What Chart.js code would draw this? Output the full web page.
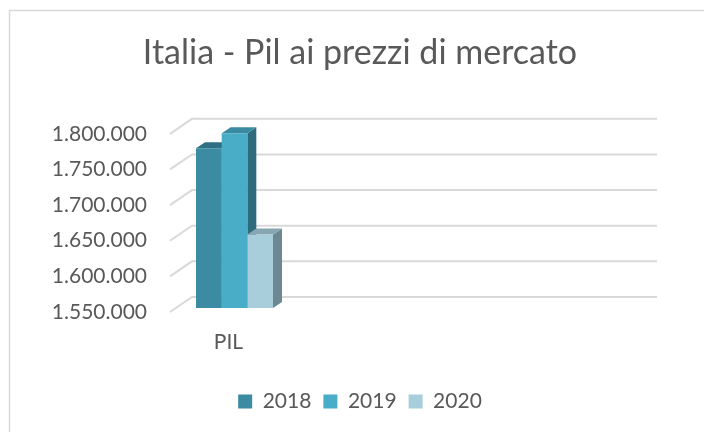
<!DOCTYPE html>
<html>
<head>
<meta charset="utf-8">
<script src="https://cdn.jsdelivr.net/npm/chart.js@4.4.0/dist/chart.umd.min.js"></script>
<style>
  html, body { margin: 0; padding: 0; background: #fff; }
  #contenitore { position: relative; width: 704px; height: 432px; }
</style>
</head>
<body>
<div id="contenitore"><canvas id="pilChart" width="704" height="432"></canvas></div>
<script>
// Dati (PIL a prezzi di mercato, milioni di euro)
const categorie = ['PIL'];
const anni = ['2018', '2019', '2020'];
const pil2018 = [1774000];
const pil2019 = [1795000];
const pil2020 = [1653000];
const asseMin = 1550000;
const asseMax = 1800000;
const passoAsse = 50000;

const COLORI_FRONTE = ['#3b8ba3', '#4aadc7', '#a8cedb'];
const COLORI_CIMA = ['#2f7084', '#3a8aa1', '#86a6b1'];
const COLORI_LATO = ['#2d6b7c', '#2e6c7d', '#6b8893'];
const GRIGIO_TESTO = '#595959';
const GRIGIO_GRIGLIA = '#d9d9d9';

// profondità della barra e del "pavimento" 3D, in pixel
const DX_BARRA = 9, DY_BARRA = 6;
const DX_FONDO = 16, DY_FONDO = 11;
const DX_FRONTE = -6, DY_FRONTE = 4;
const FINE_GRIGLIA = 657;

function formatoIt(v) {
    return String(v).replace(/\B(?=(\d{3})+(?!\d))/g, '.');
}

// Disegna la cornice, la griglia sulla parete di fondo e le facce laterali
// e superiori delle barre (la faccia frontale la disegna Chart.js).
const effetto3D = {
    id: 'effetto3D',
    beforeDraw(chart) {
        const ctx = chart.ctx;
        ctx.save();
        ctx.strokeStyle = GRIGIO_GRIGLIA;
        ctx.lineWidth = 1.5;
        ctx.beginPath();
        ctx.moveTo(9.5, chart.height);
        ctx.lineTo(9.5, 10.5);
        ctx.lineTo(chart.width, 10.5);
        ctx.stroke();
        ctx.restore();
    },
    beforeDatasetsDraw(chart) {
        const { ctx, chartArea } = chart;
        const y = chart.scales.y;
        ctx.save();
        ctx.strokeStyle = GRIGIO_GRIGLIA;
        ctx.lineWidth = 2;
        y.ticks.forEach(t => {
            const py = y.getPixelForValue(t.value);
            ctx.beginPath();
            ctx.moveTo(chartArea.left + DX_FRONTE, py + DY_FRONTE);
            ctx.lineTo(chartArea.left + DX_FONDO, py - DY_FONDO);
            ctx.lineTo(FINE_GRIGLIA, py - DY_FONDO);
            ctx.stroke();
        });
        chart.data.datasets.forEach((ds, i) => {
            chart.getDatasetMeta(i).data.forEach(barra => {
                const p = barra.getProps(['x', 'y', 'base', 'width'], true);
                const cima = p.y;
                const base = Math.min(p.base, chartArea.bottom);
                const sx = p.x - p.width / 2, dx = p.x + p.width / 2;
                ctx.fillStyle = COLORI_LATO[i];
                ctx.beginPath();
                ctx.moveTo(dx, cima);
                ctx.lineTo(dx + DX_BARRA, cima - DY_BARRA);
                ctx.lineTo(dx + DX_BARRA, base - DY_BARRA);
                ctx.lineTo(dx, base);
                ctx.closePath();
                ctx.fill();
                ctx.fillStyle = COLORI_CIMA[i];
                ctx.beginPath();
                ctx.moveTo(sx, cima);
                ctx.lineTo(sx + DX_BARRA, cima - DY_BARRA);
                ctx.lineTo(dx + DX_BARRA, cima - DY_BARRA);
                ctx.lineTo(dx, cima);
                ctx.closePath();
                ctx.fill();
            });
        });
        ctx.restore();
    }
};

Chart.defaults.font.family = 'Lato, "Noto Sans", sans-serif';
Chart.defaults.color = GRIGIO_TESTO;

const serie = [pil2018, pil2019, pil2020];

new Chart(document.getElementById('pilChart').getContext('2d'), {
    type: 'bar',
    data: {
        labels: categorie,
        datasets: anni.map((anno, i) => ({
            label: anno,
            data: serie[i],
            backgroundColor: COLORI_FRONTE[i],
            borderWidth: 0,
            barPercentage: 1,
            categoryPercentage: 0.658
        }))
    },
    options: {
        responsive: false,
        animation: false,
        layout: { padding: { left: 16, right: 0, top: 33, bottom: 10 } },
        scales: {
            x: {
                grid: { display: false, drawTicks: false },
                border: { display: false },
                ticks: { font: { size: 21 }, labelOffset: -6, padding: 22 },
                afterFit: s => { s.height = 71; }
            },
            y: {
                min: asseMin,
                max: asseMax,
                grid: { display: false, drawTicks: false },
                border: { display: false },
                ticks: {
                    stepSize: passoAsse,
                    font: { size: 21 },
                    padding: 29,
                    labelOffset: 4,
                    callback: v => formatoIt(v)
                },
                afterFit: s => { s.width = 160; }
            },
            destra: {
                type: 'linear',
                position: 'right',
                grid: { display: false },
                border: { display: false },
                ticks: { display: false },
                afterFit: s => { s.width = 411; }
            }
        },
        plugins: {
            title: {
                display: true,
                text: 'Italia - Pil ai prezzi di mercato',
                font: { size: 34, weight: 'normal' },
                color: GRIGIO_TESTO,
                padding: { top: 0, bottom: 56 }
            },
            legend: {
                position: 'bottom',
                labels: { boxWidth: 14, boxHeight: 14, padding: 12, font: { size: 21 }, color: GRIGIO_TESTO }
            },
            tooltip: { enabled: false }
        }
    },
    plugins: [effetto3D]
});
</script>
</body>
</html>
